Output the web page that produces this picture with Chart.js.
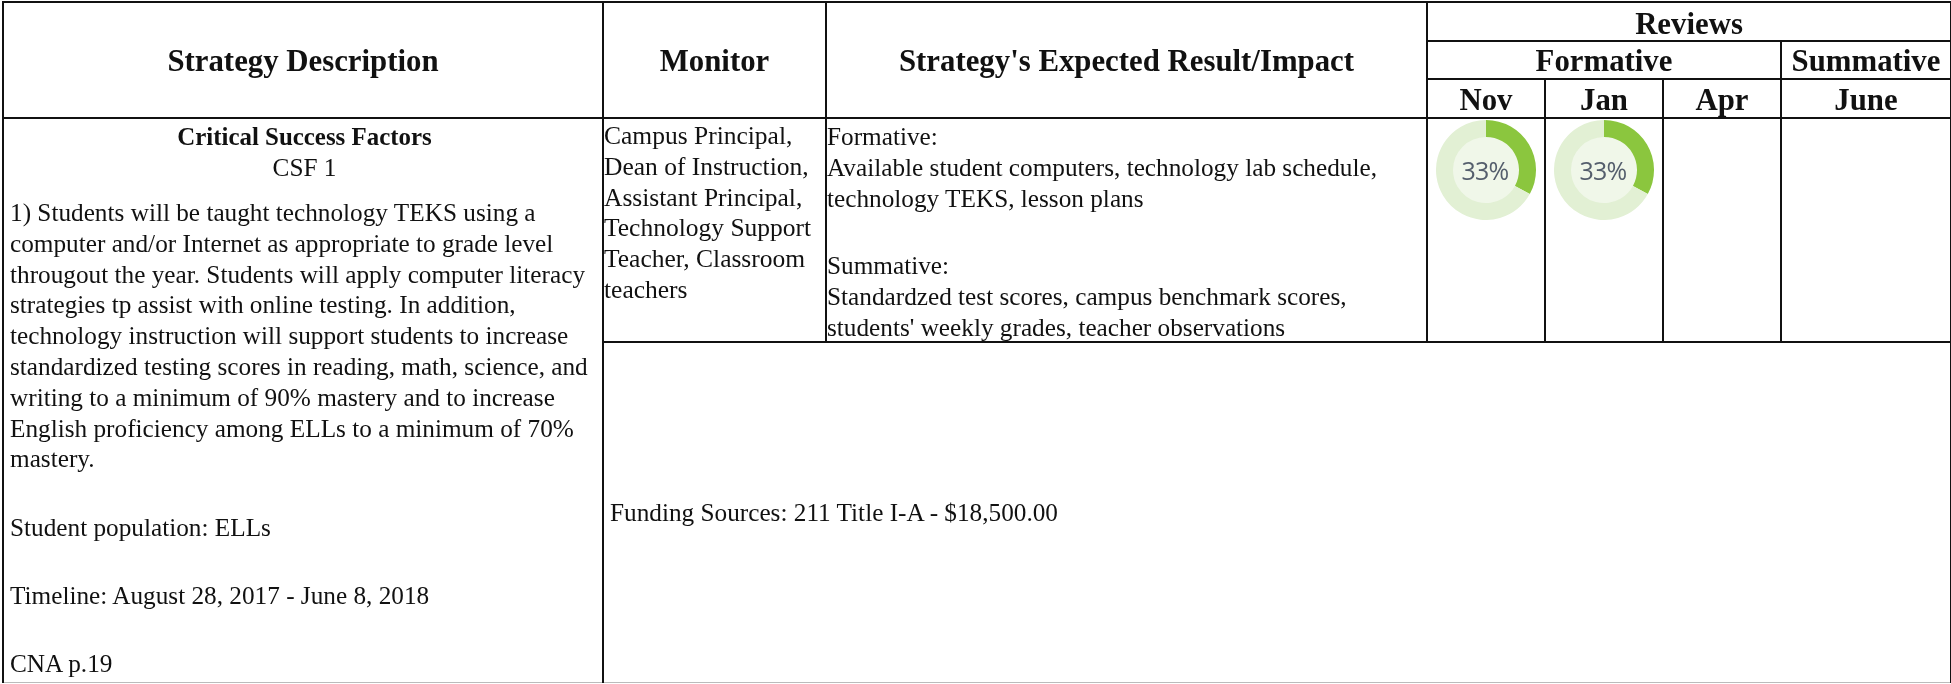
<!DOCTYPE html>
<html>
<head>
<meta charset="utf-8">
<title>Strategy review</title>
<script src="https://cdn.jsdelivr.net/npm/chart.js@4"></script>
<style>
    html, body { margin: 0; background: #fff; overflow: hidden; }
    table {
        position: absolute; left: 2px; top: 1px;
        width: 1948px; height: 682px;
        border-collapse: collapse; table-layout: fixed;
        font-family: "Liberation Serif", serif; font-size: 25.25px; line-height: 30.8px; color: #111;
        filter: blur(0.4px);
    }
    td, th { border: 2px solid #111; padding: 0; overflow: hidden; }
    th { font-size: 30.8px; line-height: 32px; text-align: center; vertical-align: middle; padding-top: 2px; }
    tr.r1, tr.r3 { height: 39px; }
    tr.r2 { height: 38px; }
    tr.r4 { height: 224px; }
    #hReviews { padding-top: 4px; }
    #hFormative, #hSummative { padding-top: 1px; }
    td { vertical-align: top; }
    #strategy, #funding { border-bottom: 1px solid #bbb; }
    #strategy, #monitor { padding-top: 2px; }
    .wrap { white-space: pre; }
    #monitor { font-size: 25.5px; }
    .strategy .head { text-align: center; font-weight: bold; font-size: 24.9px; line-height: 31px; padding-left: 3px; }
    .strategy .csf { text-align: center; line-height: 31px; padding-left: 3px; }
    .strategy p { margin: 14px 0 0; white-space: pre; padding-left: 6px; }
    .strategy p.gap { margin-top: 37.5px; }
    #impact p { margin: 0; position: relative; top: 2px; }
    #impact p + p { margin-top: 37px; }
    .progress { position: relative; }
    .progress canvas { position: absolute; left: 8px; top: 1px; }
    .progress span {
        position: absolute; left: 7px; top: 1px; width: 100px; height: 100px;
        font: 25px/100px "Open Sans", sans-serif; letter-spacing: -0.8px; text-align: center; color: #545e6c;
    }
    .funding { vertical-align: middle; padding-left: 6px; }
</style>
</head>
<body>
<table>
    <colgroup>
        <col style="width:600px"><col style="width:223px"><col style="width:601px">
        <col style="width:118px"><col style="width:118px"><col style="width:118px"><col style="width:170px">
    </colgroup>
    <tr class="r1">
        <th rowspan="3" id="hStrategy"></th><th rowspan="3" id="hMonitor"></th><th rowspan="3" id="hImpact"></th>
        <th colspan="4" id="hReviews"></th>
    </tr>
    <tr class="r2"><th colspan="3" id="hFormative"></th><th id="hSummative"></th></tr>
    <tr class="r3" id="months"></tr>
    <tr class="r4">
        <td rowspan="2" class="strategy" id="strategy"></td>
        <td class="wrap" id="monitor"></td>
        <td class="wrap" id="impact"></td>
        <td class="progress"><canvas id="donutNov" width="100" height="100"></canvas><span id="labelNov"></span></td>
        <td class="progress"><canvas id="donutJan" width="100" height="100"></canvas><span id="labelJan"></span></td>
        <td></td>
        <td></td>
    </tr>
    <tr><td colspan="6" class="funding" id="funding"></td></tr>
</table>
<script>
const months = ['Nov', 'Jan', 'Apr', 'June'];
const novProgress = [33, 67];
const janProgress = [33, 67];

const monitorLines = ['Campus Principal,', 'Dean of Instruction,', 'Assistant Principal,', 'Technology Support', 'Teacher, Classroom', 'teachers'];
const formativeLines = [
    'Formative:',
    'Available student computers, technology lab schedule,',
    'technology TEKS, lesson plans'
];
const summativeLines = [
    'Summative:',
    'Standardzed test scores, campus benchmark scores,',
    "students' weekly grades, teacher observations"
];
const strategyLines = [
    '1) Students will be taught technology TEKS using a',
    'computer and/or Internet as appropriate to grade level',
    'througout the year. Students will apply computer literacy',
    'strategies tp assist with online testing. In addition,',
    'technology instruction will support students to increase',
    'standardized testing scores in reading, math, science, and',
    'writing to a minimum of 90% mastery and to increase',
    'English proficiency among ELLs to a minimum of 70%',
    'mastery.'
];
const strategyNotes = ['Student population: ELLs', 'Timeline: August 28, 2017 - June 8, 2018', 'CNA p.19'];

document.getElementById('hStrategy').textContent = 'Strategy Description';
document.getElementById('hMonitor').textContent = 'Monitor';
document.getElementById('hImpact').textContent = "Strategy's Expected Result/Impact";
document.getElementById('hReviews').textContent = 'Reviews';
document.getElementById('hFormative').textContent = 'Formative';
document.getElementById('hSummative').textContent = 'Summative';
document.getElementById('months').innerHTML = months.map(m => '<th>' + m + '</th>').join('');
document.getElementById('monitor').textContent = monitorLines.join('\n');
document.getElementById('impact').innerHTML =
    '<p>' + formativeLines.join('\n') + '</p><p>' + summativeLines.join('\n') + '</p>';
document.getElementById('funding').textContent = 'Funding Sources: 211 Title I-A - $18,500.00';
document.getElementById('strategy').innerHTML =
    '<div class="head">Critical Success Factors</div><div class="csf">CSF 1</div>' +
    '<p>' + strategyLines.join('\n') + '</p>' +
    strategyNotes.map(n => '<p class="gap">' + n + '</p>').join('');

// light disc behind the ring, sized from the arc the chart computed
const innerDisc = {
    id: 'innerDisc',
    beforeDatasetsDraw(chart) {
        const arc = chart.getDatasetMeta(0).data[0];
        const ctx = chart.ctx;
        ctx.save();
        ctx.fillStyle = '#f0f7e9';
        ctx.beginPath();
        ctx.arc(arc.x, arc.y, arc.innerRadius + 0.5, 0, Math.PI * 2);
        ctx.fill();
        ctx.restore();
    }
};

function drawDonut(canvasId, labelId, values) {
    document.getElementById(labelId).textContent = values[0] + '%';
    return new Chart(document.getElementById(canvasId), {
        type: 'doughnut',
        data: {
            labels: ['Done', 'Remaining'],
            datasets: [{ data: values, backgroundColor: ['#8bc63e', '#e2f0d4'], borderWidth: 0 }]
        },
        options: {
            responsive: false,
            animation: false,
            cutout: '66%',
            plugins: { legend: { display: false }, tooltip: { enabled: false } }
        },
        plugins: [innerDisc]
    });
}

drawDonut('donutNov', 'labelNov', novProgress);
drawDonut('donutJan', 'labelJan', janProgress);
</script>
</body>
</html>
